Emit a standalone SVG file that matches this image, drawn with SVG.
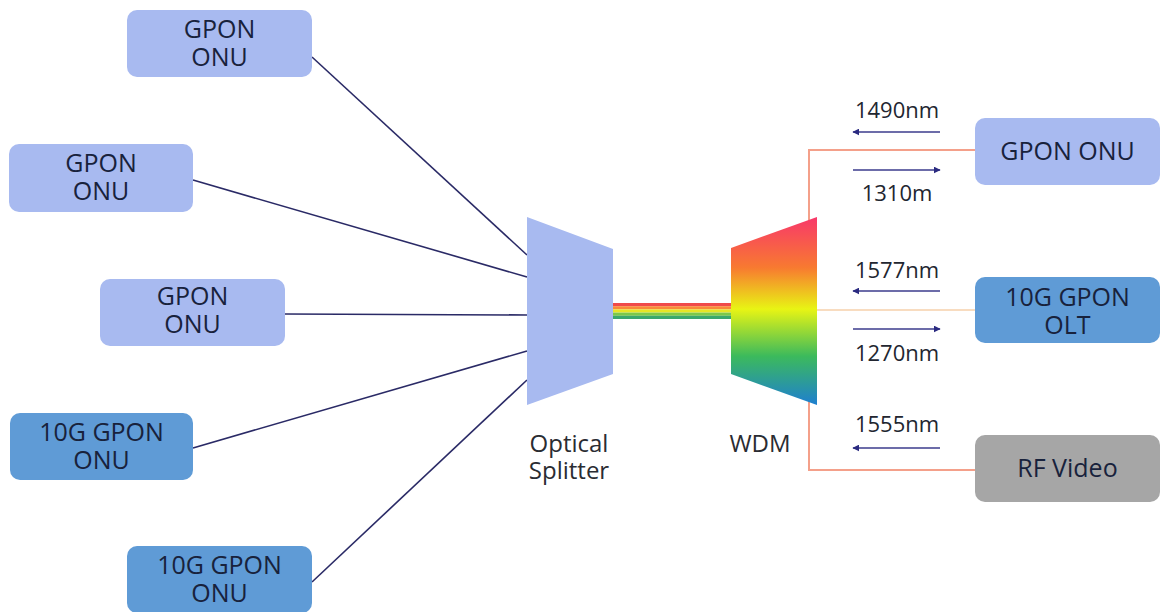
<svg xmlns="http://www.w3.org/2000/svg" width="1166" height="612" viewBox="0 0 1166 612">
<defs>
<style>
.t{font-family:"Open Sans","Liberation Sans",sans-serif;fill:#18223c;text-anchor:middle}
.n{font-size:25px}
.l{font-size:22px;fill:#222630}
.c{font-size:24px;fill:#2a2c32}
.lb{fill:#a8baf0}
.db{fill:#5f9bd6}
.gr{fill:#a6a6a6}
.fib{stroke:#2a2a66;stroke-width:1.6;fill:none}
.arr{stroke:#3b3b8c;stroke-width:1.5;fill:none;marker-end:url(#ah)}
.org{stroke:#f4a08a;stroke-width:2;fill:none}
</style>
<marker id="ah" viewBox="0 0 10 10" refX="9" refY="5" markerWidth="7" markerHeight="7" markerUnits="userSpaceOnUse" orient="auto">
<path d="M0,0 L10,5 L0,10 z" fill="#2a2a80"/>
</marker>
<linearGradient id="wdmg" x1="0" y1="217" x2="0" y2="405" gradientUnits="userSpaceOnUse">
<stop offset="0" stop-color="#f8386a"/>
<stop offset="0.27" stop-color="#f87a30"/>
<stop offset="0.49" stop-color="#e8f414"/>
<stop offset="0.74" stop-color="#3cba5c"/>
<stop offset="1" stop-color="#1e7fd0"/>
</linearGradient>
</defs>
<rect width="1166" height="612" fill="#ffffff"/>

<g id="connectors">
<line class="fib" x1="312" y1="57" x2="527" y2="255"/>
<line class="fib" x1="193" y1="180" x2="527" y2="277"/>
<line class="fib" x1="285" y1="314" x2="527" y2="315"/>
<line class="fib" x1="193" y1="448" x2="527" y2="351"/>
<line class="fib" x1="312" y1="582" x2="527" y2="380"/>
<polyline class="org" points="975,150 809,150 809,470 975,470"/>
<line x1="817" y1="310" x2="975" y2="310" stroke="#f8dcc0" stroke-width="2"/>
<line class="arr" x1="940" y1="132" x2="853" y2="132"/>
<line class="arr" x1="853" y1="170" x2="940" y2="170"/>
<line class="arr" x1="940" y1="291" x2="853" y2="291"/>
<line class="arr" x1="853" y1="329" x2="940" y2="329"/>
<line class="arr" x1="940" y1="448" x2="853" y2="448"/>
<g id="band">
<rect x="612" y="303" width="120" height="3.2" fill="#f04a4a"/>
<rect x="612" y="306.2" width="120" height="3.2" fill="#f98a3a"/>
<rect x="612" y="309.4" width="120" height="3.2" fill="#e6e624"/>
<rect x="612" y="312.6" width="120" height="3.2" fill="#7cc84a"/>
<rect x="612" y="315.8" width="120" height="3.2" fill="#3aa86c"/>
</g>
</g>

<g id="splitter">
<polygon points="527,217 613,249 613,374 527,405" fill="#a8baf0"/>
<text class="t c" x="569" y="452">Optical</text>
<text class="t c" x="569" y="479">Splitter</text>
</g>
<g id="wdm">
<polygon points="731,248 817,217 817,405 731,374" fill="url(#wdmg)"/>
<text class="t c" x="760" y="452">WDM</text>
</g>

<g id="onu1"><rect class="lb" x="127" y="10" width="185" height="67" rx="10"/>
<text class="t n" x="219.5" y="38">GPON</text><text class="t n" x="219.5" y="66">ONU</text></g>
<g id="onu2"><rect class="lb" x="9" y="144" width="184" height="68" rx="10"/>
<text class="t n" x="101" y="172">GPON</text><text class="t n" x="101" y="200">ONU</text></g>
<g id="onu3"><rect class="lb" x="100" y="279" width="185" height="67" rx="10"/>
<text class="t n" x="192.5" y="305">GPON</text><text class="t n" x="192.5" y="333">ONU</text></g>
<g id="onu4"><rect class="db" x="10" y="413" width="183" height="67" rx="10"/>
<text class="t n" x="101.5" y="441">10G GPON</text><text class="t n" x="101.5" y="469">ONU</text></g>
<g id="onu5"><rect class="db" x="127" y="546" width="185" height="67" rx="10"/>
<text class="t n" x="219.5" y="574">10G GPON</text><text class="t n" x="219.5" y="602">ONU</text></g>

<g id="gponOnuR"><rect class="lb" x="975" y="118" width="185" height="67" rx="10"/>
<text class="t n" x="1067.5" y="160">GPON ONU</text></g>
<g id="olt"><rect class="db" x="975" y="277" width="185" height="66" rx="10"/>
<text class="t n" x="1067.5" y="306">10G GPON</text><text class="t n" x="1067.5" y="334">OLT</text></g>
<g id="rfvideo"><rect class="gr" x="975" y="435" width="185" height="67" rx="10"/>
<text class="t n" x="1067.5" y="477">RF Video</text></g>

<g id="labels">
<text class="t l" x="897" y="118">1490nm</text>
<text class="t l" x="897" y="201">1310m</text>
<text class="t l" x="897" y="278">1577nm</text>
<text class="t l" x="897" y="361">1270nm</text>
<text class="t l" x="897" y="432">1555nm</text>
</g>
</svg>
